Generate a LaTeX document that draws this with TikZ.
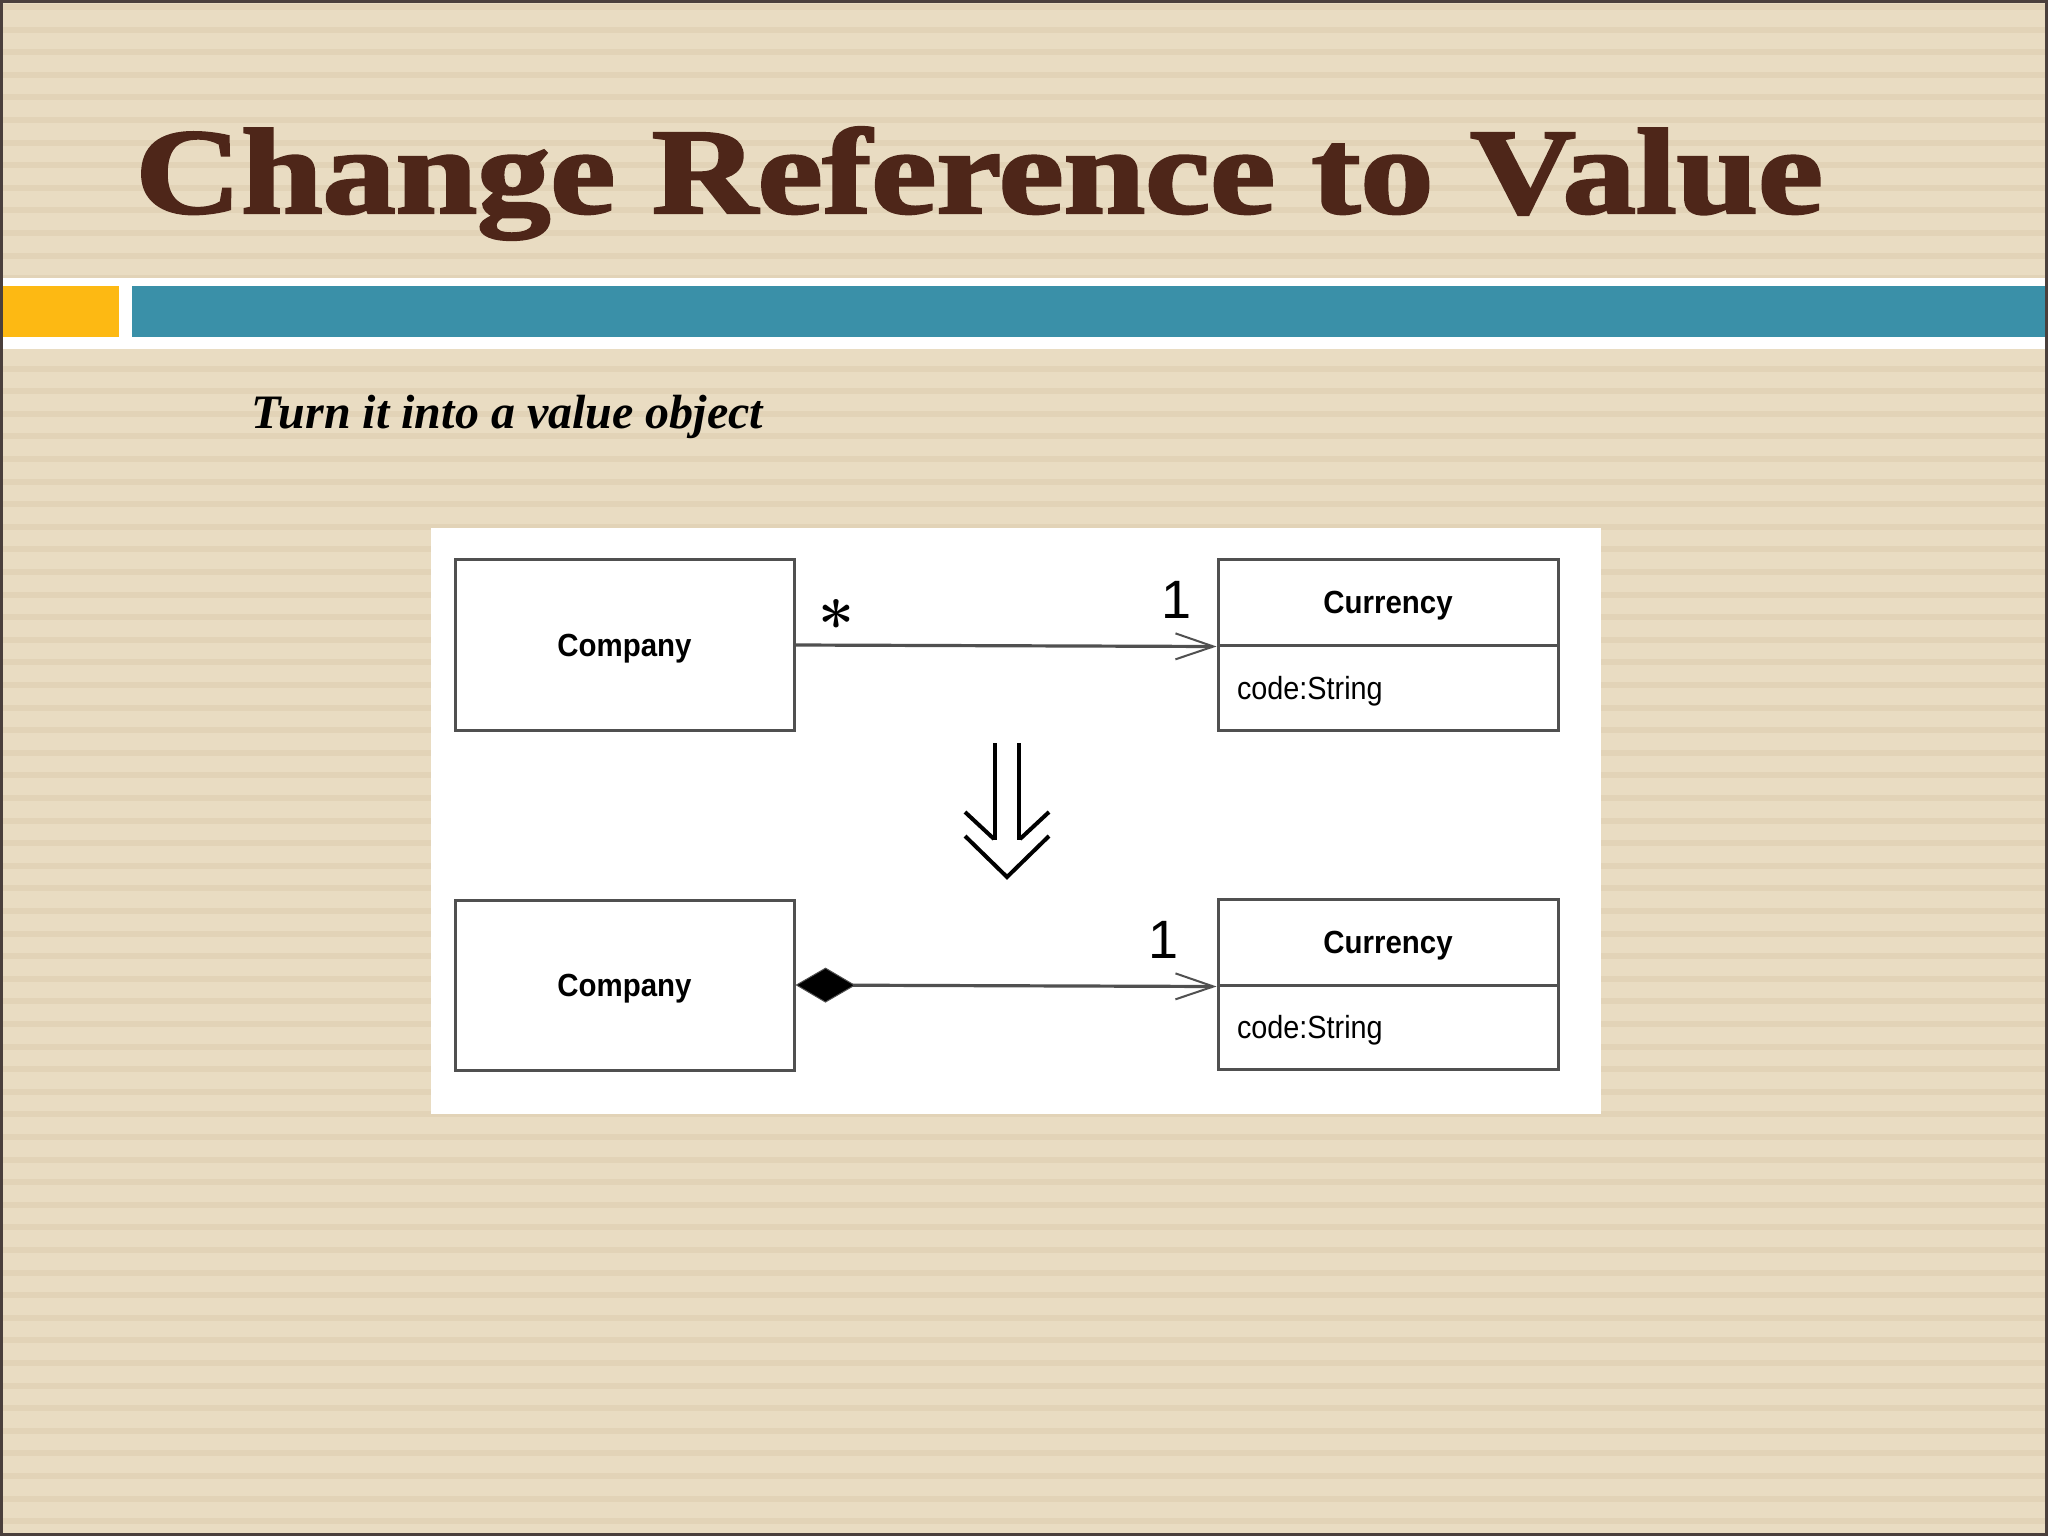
\documentclass[tikz,border=0pt]{standalone}
\usepackage{fontspec}
\newfontfamily\titlefont{Liberation Serif}
\newfontfamily\heavytitle[FakeBold=2]{Liberation Serif Bold}
\newfontfamily\boxfont{Liberation Sans}
\usetikzlibrary{arrows.meta}
\definecolor{bg}{HTML}{E9DCC2}
\definecolor{stripe}{HTML}{E2D3B7}
\definecolor{titlebrown}{HTML}{4E2619}
\definecolor{tealbar}{HTML}{3A90A8}
\definecolor{orangebar}{HTML}{FDB913}
\definecolor{framecol}{HTML}{4A3F3C}
\definecolor{umlline}{HTML}{505050}
\begin{document}
\begin{tikzpicture}[x=0.5pt,y=-0.5pt,
  umlbox/.style={draw=umlline, line width=1.5pt, fill=white, inner sep=0pt,
    text depth=0pt, minimum width=170pt, font=\boxfont\bfseries\fontsize{16}{19}\selectfont},
  attrbox/.style={umlbox, text width=151pt, inner xsep=9.5pt, align=left,
    font=\boxfont\fontsize{16}{19}\selectfont},
  conn/.style={draw=umlline, line width=1.6pt},
  opentip/.style={-{Straight Barb[length=19pt,width=13pt,line width=1pt]}},
  mult/.style={font=\boxfont\fontsize{27}{30}\selectfont, inner sep=0pt},
  bigarrow/.style={line width=2pt, black}]
% background
\fill[bg] (0,0) rectangle (2048,1536);
\foreach \i in {0,...,67} \fill[stripe] (0,{7+22.6*\i-3}) rectangle (2048,{7+22.6*\i+3});
\useasboundingbox (0,0) rectangle (2048,1536);
% bars
\fill[white] (0,278) rectangle (2048,349);
\fill[orangebar] (0,286) rectangle (119,337);
\fill[tealbar] (132,286) rectangle (2048,337);
% frame
\draw[framecol, line width=1.5pt] (1.5,1.5) rectangle (2046.5,1534.5);
% title
\node[anchor=base west, inner sep=0pt, text=titlebrown,
  font=\heavytitle\fontsize{61}{66}\selectfont] (title) at (135,213)
  {\scalebox{1.2}[1]{Change Reference to Value}};
\node[anchor=base west, inner sep=0pt,
  font=\titlefont\bfseries\itshape\fontsize{24}{28}\selectfont] (sub) at (251,428)
  {Turn it into a value object};
% panel
\fill[white] (431,528) rectangle (1601,1114);
% top diagram
\node[umlbox, minimum width=169.5pt, minimum height=85.5pt] (comp1) at (624.5,645) {\scalebox{0.92}[1]{Company}};
\node[umlbox, minimum height=43pt] (cur1h) at (1388,602) {\scalebox{0.92}[1]{Currency}};
\node[attrbox, minimum height=42.5pt] (cur1a) at (1388,687.5) {\scalebox{0.9}[1]{code:String}};
\draw[conn, opentip] (comp1.east) -- (cur1h.south west);
\node[inner sep=0pt, font=\bfseries\fontsize{32}{34}\selectfont] (star) at (837,623) {*};
\node[mult] (one1) at (1176,600) {1};
% transformation arrow
\draw[bigarrow] (995,743) -- (995,840);
\draw[bigarrow] (1019,743) -- (1019,840);
\draw[bigarrow] (965,812) -- (994,839);
\draw[bigarrow] (1049,812) -- (1020,839);
\draw[bigarrow] (965,836) -- (1007,877) -- (1049,836);
% bottom diagram
\node[umlbox, minimum width=169.5pt, minimum height=85pt] (comp2) at (624.5,985) {\scalebox{0.92}[1]{Company}};
\node[umlbox, minimum height=43pt] (cur2h) at (1388,942) {\scalebox{0.92}[1]{Currency}};
\node[attrbox, minimum height=42pt] (cur2a) at (1388,1027) {\scalebox{0.9}[1]{code:String}};
\draw[conn, {Diamond[length=30pt,width=17.5pt,fill=black,line width=0.5pt]}-{Straight Barb[length=19pt,width=13pt,line width=1pt]}]
  (comp2.east) -- (cur2h.south west);
\node[mult] (one2) at (1163,940) {1};
\end{tikzpicture}
\end{document}
